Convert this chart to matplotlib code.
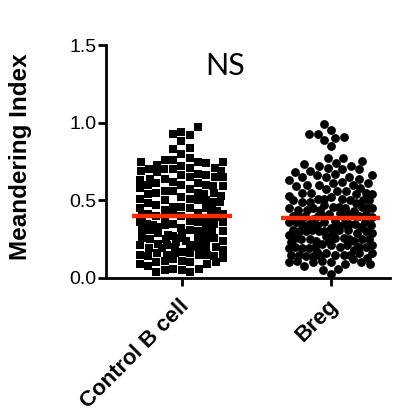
import numpy as np
import matplotlib
matplotlib.use("Agg")
import matplotlib.pyplot as plt
import matplotlib.transforms as mtransforms

categories = ["Control B cell", "Breg"]
y_ticks = [0.0, 0.5, 1.0, 1.5]
y_tick_labels = ["0.0", "0.5", "1.0", "1.5"]
y_label = "Meandering Index"
annotation = "NS"

control = [
    0.05, 0.06, 0.04, 0.05, 0.06, 0.04,
    0.10, 0.11, 0.09, 0.10, 0.12, 0.08, 0.10, 0.11, 0.09,
    0.15, 0.16, 0.14, 0.15, 0.17, 0.13, 0.15, 0.16, 0.14, 0.15, 0.16,
    0.20, 0.21, 0.19, 0.20, 0.22, 0.18, 0.20, 0.21, 0.19, 0.20, 0.21,
    0.25, 0.26, 0.24, 0.25, 0.27, 0.23, 0.25, 0.26, 0.24, 0.25, 0.26,
    0.30, 0.31, 0.29, 0.30, 0.32, 0.28, 0.30, 0.31, 0.29, 0.30, 0.31,
    0.35, 0.36, 0.34, 0.35, 0.37, 0.33, 0.35, 0.36, 0.34, 0.35, 0.36,
    0.40, 0.41, 0.39, 0.40, 0.42, 0.38, 0.40, 0.41, 0.39, 0.40, 0.41,
    0.45, 0.46, 0.44, 0.45, 0.47, 0.43, 0.45, 0.46, 0.44,
    0.50, 0.51, 0.49, 0.50, 0.52, 0.48, 0.50, 0.51, 0.49,
    0.55, 0.56, 0.54, 0.55, 0.57, 0.53, 0.55, 0.56, 0.54,
    0.60, 0.61, 0.59, 0.60, 0.62, 0.58, 0.60, 0.61, 0.59,
    0.65, 0.66, 0.64, 0.65, 0.67, 0.63, 0.65, 0.66, 0.64,
    0.70, 0.71, 0.69, 0.70, 0.72, 0.68, 0.70, 0.71, 0.69,
    0.75, 0.76, 0.74, 0.75, 0.77, 0.73, 0.75, 0.76,
    0.80, 0.84, 0.83, 0.88, 0.92, 0.93, 0.94, 0.97,
]

breg = [
    0.025, 0.05, 0.06,
    0.10, 0.11, 0.09, 0.10, 0.12, 0.08, 0.10, 0.11, 0.09, 0.10,
    0.15, 0.16, 0.14, 0.15, 0.17, 0.13, 0.15, 0.16, 0.14, 0.15, 0.16, 0.14, 0.15,
    0.20, 0.21, 0.19, 0.20, 0.22, 0.18, 0.20, 0.21, 0.19, 0.20, 0.21, 0.19, 0.20,
    0.25, 0.26, 0.24, 0.25, 0.27, 0.23, 0.25, 0.26, 0.24, 0.25, 0.26, 0.24, 0.25,
    0.30, 0.31, 0.29, 0.30, 0.32, 0.28, 0.30, 0.31, 0.29, 0.30, 0.31, 0.29, 0.30, 0.31,
    0.35, 0.36, 0.34, 0.35, 0.37, 0.33, 0.35, 0.36, 0.34, 0.35, 0.36, 0.34, 0.35, 0.36,
    0.40, 0.41, 0.39, 0.40, 0.42, 0.38, 0.40, 0.41, 0.39, 0.40, 0.41, 0.39, 0.40,
    0.45, 0.46, 0.44, 0.45, 0.47, 0.43, 0.45, 0.46, 0.44, 0.45, 0.46, 0.44, 0.45,
    0.50, 0.51, 0.49, 0.50, 0.52, 0.48, 0.50, 0.51, 0.49, 0.50, 0.51,
    0.55, 0.56, 0.54, 0.55, 0.57, 0.53, 0.55, 0.56, 0.54,
    0.60, 0.61, 0.59, 0.60, 0.62, 0.58, 0.60, 0.61,
    0.65, 0.66, 0.64, 0.65, 0.67, 0.63, 0.65, 0.66,
    0.70, 0.71, 0.72, 0.72, 0.68, 0.69, 0.70,
    0.735, 0.74, 0.755, 0.77, 0.77,
    0.85, 0.89, 0.90, 0.91, 0.93, 0.93, 0.955, 0.99,
]

groups = [control, breg]
markers = ["s", "o"]
marker_px = [8.5, 8.8]          # marker extent in pixels
half_width_px = [41.5, 41.5]    # max spread of centres from the column centre

W, H = 403, 418
ax_left, ax_bottom, ax_w, ax_h = 106, 278, 284, 233
xlim = (-0.51, 1.40)
ylim = (0.0, 1.5)
px_per_x = ax_w / (xlim[1] - xlim[0])
px_per_y = ax_h / (ylim[1] - ylim[0])

fig = plt.figure(figsize=(W / 100, H / 100), dpi=100)
ax = fig.add_axes([ax_left / W, 1 - ax_bottom / H, ax_w / W, ax_h / H])


def swarm_offsets(values, d, half_w, square):
    """Prism-like column scatter: closest free slot to the centre,
    falling back to the least-overlapping slot inside the width cap."""
    ys = np.asarray(values, dtype=float) * px_per_y
    cand = np.arange(-half_w, half_w + 0.01, 0.5)
    cand = cand[np.argsort(np.abs(cand), kind="stable")]
    px, py = [], []
    for y in ys:
        if px:
            ax_ = np.array(px)
            ay_ = np.array(py)
            dy = np.abs(ay_ - y)
            dx = np.abs(cand[:, None] - ax_[None, :])
            if square:
                dist = np.maximum(dx, dy[None, :])
            else:
                dist = np.hypot(dx, dy[None, :])
            mind = dist.min(axis=1)
            ok = np.where(mind >= d - 1e-6)[0]
            if len(ok):
                x = cand[ok[0]]
            else:
                x = cand[np.argmax(mind)]
        else:
            x = 0.0
        px.append(x)
        py.append(y)
    return np.array(px) / px_per_x


for i, (vals, m, d, hw) in enumerate(zip(groups, markers, marker_px, half_width_px)):
    offs = swarm_offsets(vals, d, hw, m == "s")
    size_pt = d * 72 / 100
    ax.scatter(i + offs, vals, marker=m, s=size_pt ** 2,
               color="black", linewidths=0, zorder=2)
    med = np.median(vals)
    ax.plot([i - 0.335, i + 0.335], [med, med], color="#ff2a00", lw=3.2,
            solid_capstyle="butt", zorder=3)

ax.set_xlim(*xlim)
ax.set_ylim(*ylim)
ax.spines["top"].set_visible(False)
ax.spines["right"].set_visible(False)
for sp in ["left", "bottom"]:
    ax.spines[sp].set_linewidth(2.0)
ax.set_yticks(y_ticks)
ax.set_yticklabels(y_tick_labels, fontsize=14, family="Liberation Sans")
ax.set_xticks(range(len(categories)))
ax.set_xticklabels(categories, rotation=45, ha="right", va="center",
                   rotation_mode="anchor", fontsize=16,
                   fontweight="bold", family="Liberation Sans")
ax.tick_params(axis="both", length=6, width=2.0, pad=1.0)
ax.tick_params(axis="x", pad=9)
shift = mtransforms.ScaledTranslation(4 / 100, -4 / 100, fig.dpi_scale_trans)
for lab in ax.get_xticklabels():
    lab.set_transform(lab.get_transform() + shift)

fig.text(21 / W, 1 - 157 / H, y_label, rotation=90, ha="center",
         va="center", fontsize=17.5, fontweight="bold", family="Liberation Sans")
ax.text(0.29, 1.365, annotation, ha="center", va="center", fontsize=22,
        family="Lato")

fig.savefig("out.png", dpi=100)
